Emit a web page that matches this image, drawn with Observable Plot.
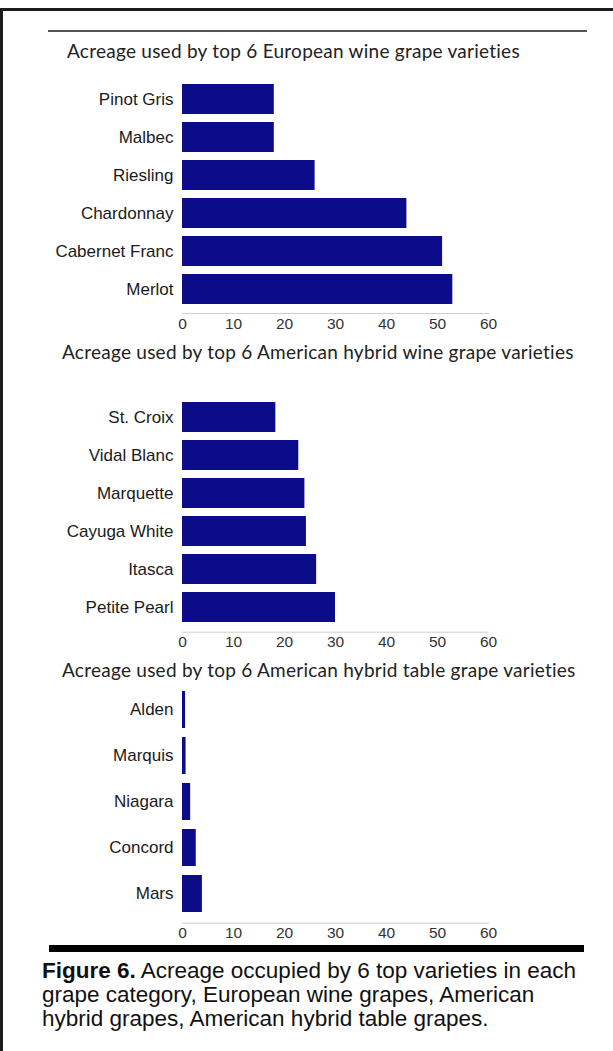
<!DOCTYPE html>
<html>
<head>
<meta charset="utf-8">
<script src="https://cdn.jsdelivr.net/npm/d3@7"></script>
<script src="https://cdn.jsdelivr.net/npm/@observablehq/plot@0.6"></script>
<style>
  html, body { margin: 0; padding: 0; background: #fff; }
  #page { position: relative; width: 613px; height: 1051px; overflow: hidden; background: #fff; }
  .abs { position: absolute; }
  .title { position: absolute; font-family: Lato, "Open Sans", sans-serif; font-size: 19px; letter-spacing: 0.25px; color: #222; white-space: nowrap; line-height: 1; transform: translateY(-50%); }
  .caption { position: absolute; left: 42px; top: 959px; font-family: "Liberation Sans", Arial, sans-serif; font-size: 22.5px; line-height: 24px; color: #111; white-space: nowrap; }
  svg { position: absolute; left: 0; }
</style>
</head>
<body>
<div id="page"></div>
<script>
// ---- data ----
const europeanVarieties = ["Pinot Gris", "Malbec", "Riesling", "Chardonnay", "Cabernet Franc", "Merlot"];
const europeanAcres = [18, 18, 26, 44, 51, 53];

const hybridWineVarieties = ["St. Croix", "Vidal Blanc", "Marquette", "Cayuga White", "Itasca", "Petite Pearl"];
const hybridWineAcres = [18.3, 22.8, 24, 24.3, 26.3, 30];

const tableVarieties = ["Alden", "Marquis", "Niagara", "Concord", "Mars"];
const tableAcres = [0.6, 0.7, 1.6, 2.7, 3.9];

const xTicks = [0, 10, 20, 30, 40, 50, 60];

const chartTitles = [
  "Acreage used by top 6 European wine grape varieties",
  "Acreage used by top 6 American hybrid wine grape varieties",
  "Acreage used by top 6 American hybrid table grape varieties"
];
const captionBold = "Figure 6.";
const captionLines = [
  " Acreage occupied by 6 top varieties in each",
  "grape category, European wine grapes, American",
  "hybrid grapes, American hybrid table grapes."
];

// ---- layout ----
const page = document.getElementById("page");
function addDiv(cls, style, text) {
  const d = document.createElement("div");
  d.className = cls;
  Object.assign(d.style, style);
  if (text !== undefined) d.textContent = text;
  page.appendChild(d);
  return d;
}

// frame / decorative lines
addDiv("abs", {left: "0px", top: "8px", width: "613px", height: "3px", background: "#1c1c1c"});
addDiv("abs", {left: "0px", top: "8px", width: "3px", height: "1043px", background: "#1c1c1c"});
addDiv("abs", {left: "48px", top: "30px", width: "539px", height: "2px", background: "#555"});
addDiv("abs", {left: "49px", top: "945px", width: "535px", height: "7px", background: "#000"});

const barColor = "#0c0c8a";

function chart(names, values, top, height, mt, mb) {
  const data = names.map((n, i) => ({name: n, value: values[i]}));
  const svg = Plot.plot({
    width: 613,
    height,
    marginLeft: 182,
    marginRight: 125,
    marginTop: mt,
    marginBottom: mb,
    style: {background: "transparent", fontFamily: "'Liberation Sans', Arial, sans-serif", color: "#1a1a1a"},
    x: {domain: [0, 60]},
    y: {domain: names, padding: 0.2},
    marks: [
      Plot.frame({anchor: "bottom", stroke: "#cfcfcf"}),
      Plot.barX(data, {x: "value", y: "name", fill: barColor}),
      Plot.axisX({ticks: xTicks, tickSize: 0, tickPadding: 4, label: null, fontSize: 15.5, fill: "#333"}),
      Plot.axisY({tickSize: 0, tickPadding: 9, label: null, fontSize: 17, fill: "#1a1a1a"})
    ]
  });
  svg.style.top = top + "px";
  page.appendChild(svg);
}

chart(europeanVarieties, europeanAcres, 66, 270, 9.3, 23);
chart(hybridWineVarieties, hybridWineAcres, 380, 275, 12.3, 23.3);
chart(tableVarieties, tableAcres, 675, 270, 5.7, 22.3);

addDiv("title", {left: "67px", top: "50px"}, chartTitles[0]);
addDiv("title", {left: "62px", top: "351px"}, chartTitles[1]);
addDiv("title", {left: "62px", top: "669px"}, chartTitles[2]);

const cap = addDiv("caption", {});
const b = document.createElement("b");
b.textContent = captionBold;
cap.appendChild(b);
captionLines.forEach((line, i) => {
  if (i > 0) cap.appendChild(document.createElement("br"));
  cap.appendChild(document.createTextNode(line));
});
</script>
</body>
</html>
